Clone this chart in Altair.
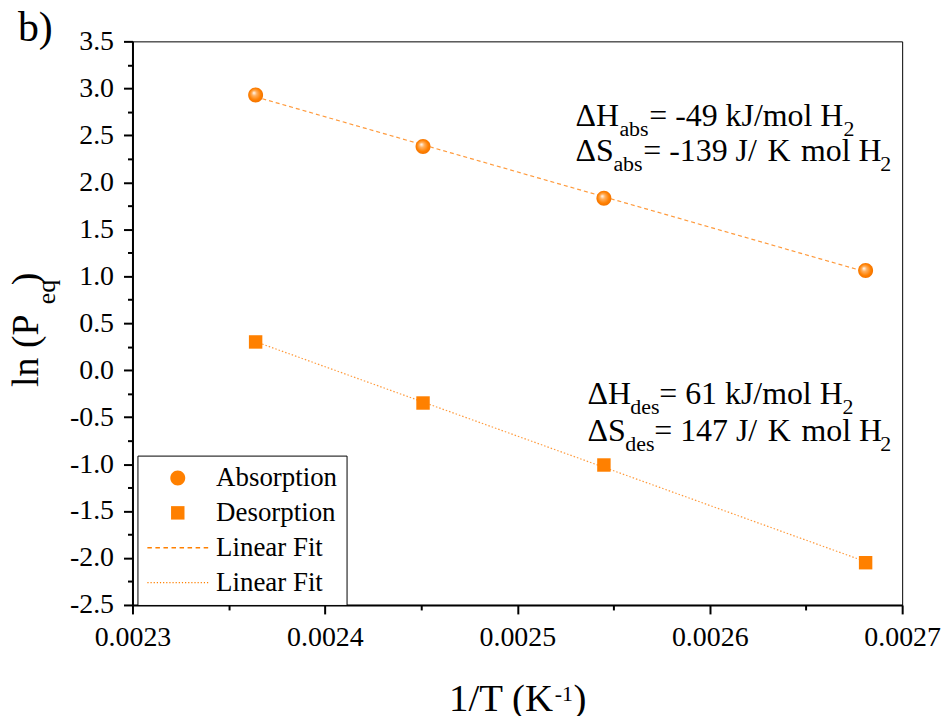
import altair as alt
import pandas as pd

# ---- data ----
inv_T = [0.002364, 0.002451, 0.002545, 0.002681]
ln_p_abs = [2.93, 2.38, 1.83, 1.06]
ln_p_des = [0.30, -0.35, -1.01, -2.05]
series_names = ["Absorption", "Desorption", "Linear Fit", "Linear Fit "]
x_ticks = [0.0023, 0.00235, 0.0024, 0.00245, 0.0025, 0.00255, 0.0026, 0.00265, 0.0027]
y_ticks = [-2.5, -2.25, -2.0, -1.75, -1.5, -1.25, -1.0, -0.75, -0.5, -0.25, 0.0, 0.25,
           0.5, 0.75, 1.0, 1.25, 1.5, 1.75, 2.0, 2.25, 2.5, 2.75, 3.0, 3.25, 3.5]

pts = pd.DataFrame({
    "x": inv_T + inv_T,
    "y": ln_p_abs + ln_p_des,
    "series": ["Absorption"] * 4 + ["Desorption"] * 4,
})

FONT = "Liberation Serif, Times New Roman, serif"
ORANGE = "#FF8000"
LINE_ORANGE = "#FF9A3C"

# custom symbol paths (unit = sqrt(size)/2 px = 7.5 px)
SYM_SIZE = 225
def rects(n, length, half_h, half_w):
    gap = (2 * half_w - n * length) / (n - 1)
    parts = []
    for i in range(n):
        a = -half_w + i * (length + gap)
        b = a + length
        parts.append(f"M{a:.4f},{-half_h}H{b:.4f}V{half_h}H{a:.4f}Z")
    return " ".join(parts)

circle_path = "M1,0A1,1,0,1,1,-1,0A1,1,0,1,1,1,0Z"
square_path = "M-0.9,-0.9H0.9V0.9H-0.9Z"
dash_path = rects(8, 0.6, 0.09, 4.07)
dot_path = rects(20, 0.16, 0.09, 4.07)
shape_range = [circle_path, square_path, dash_path, dot_path]

x_axis = alt.Axis(
    values=x_ticks,
    labelExpr="round(datum.value*100000) % 10 === 0 ? format(datum.value, '.4f') : ''",
    tickSize={"condition": {"test": "round(datum.value*100000) % 10 === 0", "value": 9}, "value": 5},
    labelPadding=10, labelFlush=False, labelOverlap=False, title=None, grid=False,
)
y_axis = alt.Axis(
    values=y_ticks,
    labelExpr="datum.value % 0.5 === 0 ? (datum.value < 0 ? '-' + format(-datum.value, '.1f') : format(datum.value, '.1f')) : ''",
    tickSize={"condition": {"test": "datum.value % 0.5 === 0", "value": 9}, "value": 5},
    labelPadding=10, labelOverlap=False, title=None, grid=False,
)

xenc = alt.X("x:Q", scale=alt.Scale(domain=[0.0023, 0.0027], nice=False, zero=False), axis=x_axis)
yenc = alt.Y("y:Q", scale=alt.Scale(domain=[-2.5, 3.5], nice=False, zero=False), axis=y_axis)

legend = alt.Legend(
    title=None, orient="none", legendX=5, legendY=416, direction="vertical",
    symbolSize=SYM_SIZE, symbolFillColor=ORANGE, symbolStrokeWidth=0, symbolOpacity=1,
    symbolOffset=18,
    labelFont=FONT, labelFontSize=27, labelColor="black", labelOffset=25, labelLimit=400,
    padding=9, rowPadding=7, strokeColor="black", fillColor="white",
)
shape_enc = alt.Shape("series:N", scale=alt.Scale(domain=series_names, range=shape_range), legend=legend)

base = alt.Chart(pts)

fit_abs = base.transform_filter("datum.series === 'Absorption'").transform_regression("x", "y").mark_line(
    color=LINE_ORANGE, strokeWidth=1.2, strokeDash=[4, 3]
).encode(x=xenc, y=yenc)

fit_des = base.transform_filter("datum.series === 'Desorption'").transform_regression("x", "y").mark_line(
    color=LINE_ORANGE, strokeWidth=1.2, strokeDash=[1.5, 2]
).encode(x=xenc, y=yenc)

pts_des = base.transform_filter("datum.series === 'Desorption'").mark_point(
    filled=True, size=SYM_SIZE, opacity=1, color=ORANGE, strokeWidth=0
).encode(x=xenc, y=yenc, shape=shape_enc)

sphere = alt.Gradient(
    gradient="radial",
    stops=[alt.GradientStop(offset=0, color="#FFFFFF"),
           alt.GradientStop(offset=0.3, color="#FFB060"),
           alt.GradientStop(offset=0.7, color="#FF8000"),
           alt.GradientStop(offset=1, color="#F07000")],
    x1=0.38, y1=0.35, r1=0, x2=0.5, y2=0.5, r2=0.55,
)
pts_abs = base.transform_filter("datum.series === 'Absorption'").mark_point(
    filled=True, size=SYM_SIZE, opacity=1, color=sphere, strokeWidth=0
).encode(x=xenc, y=yenc, shape=shape_enc)

# ---- text pieces: (text, x px, baseline y px, size, angle) relative to plot origin ----
HS = "\u200a"
texts = [
    ("b)", -115, 0, 42, 0),
    ("ln (P", -95, 347, 38, 270),
    ("eq", -78, 264, 26, 270),
    (")", -95, 245, 38, 270),
    ("1/T (K", 318, 672, 39, 0),
    ("-1", 424, 662, 22, 0),
    (")", 443, 672, 39, 0),
    ("ΔH", 445, 85, 32, 0), ("abs", 489, 95, 22, 0), ("= -49 kJ/mol H", 519, 85, 32, 0), ("2", 714, 95, 22, 0),
    ("ΔS", 445, 120, 32, 0), ("abs", 483, 130, 22, 0), (f"= -139 J/ {HS}K {HS}mol H", 513, 120, 32, 0), ("2", 751, 130, 22, 0),
    ("ΔH", 457, 364, 32, 0), ("des", 500, 374, 22, 0), ("= 61 kJ/mol H", 529, 364, 32, 0), ("2", 713, 374, 22, 0),
    ("ΔS", 457, 401, 32, 0), ("des", 495, 411, 22, 0), (f"= 147 J/ {HS}K {HS}mol H", 524, 401, 32, 0), ("2", 751, 411, 22, 0),
]
one = pd.DataFrame({"k": [0]})
text_layers = []
for t, px, py, fs, ang in texts:
    kw = dict(text=t, font=FONT, fontSize=fs, color="black", align="left", baseline="alphabetic")
    if ang:
        kw["angle"] = ang
    text_layers.append(alt.Chart(one).mark_text(**kw).encode(x=alt.value(px), y=alt.value(py)))

chart = alt.layer(fit_abs, fit_des, pts_des, pts_abs, *text_layers).properties(
    width=773, height=566,
    autosize=alt.AutoSizeParams(type="none"),
    padding={"left": 125, "top": 32, "right": 40, "bottom": 110},
    background="white",
).configure_view(
    stroke="black", strokeWidth=1
).configure_axis(
    domainColor="black", domainWidth=2, tickColor="black", tickWidth=2,
    labelFont=FONT, labelFontSize=28, labelColor="black",
)

chart.save("out.html", embed_options={"renderer": "svg", "actions": False})
